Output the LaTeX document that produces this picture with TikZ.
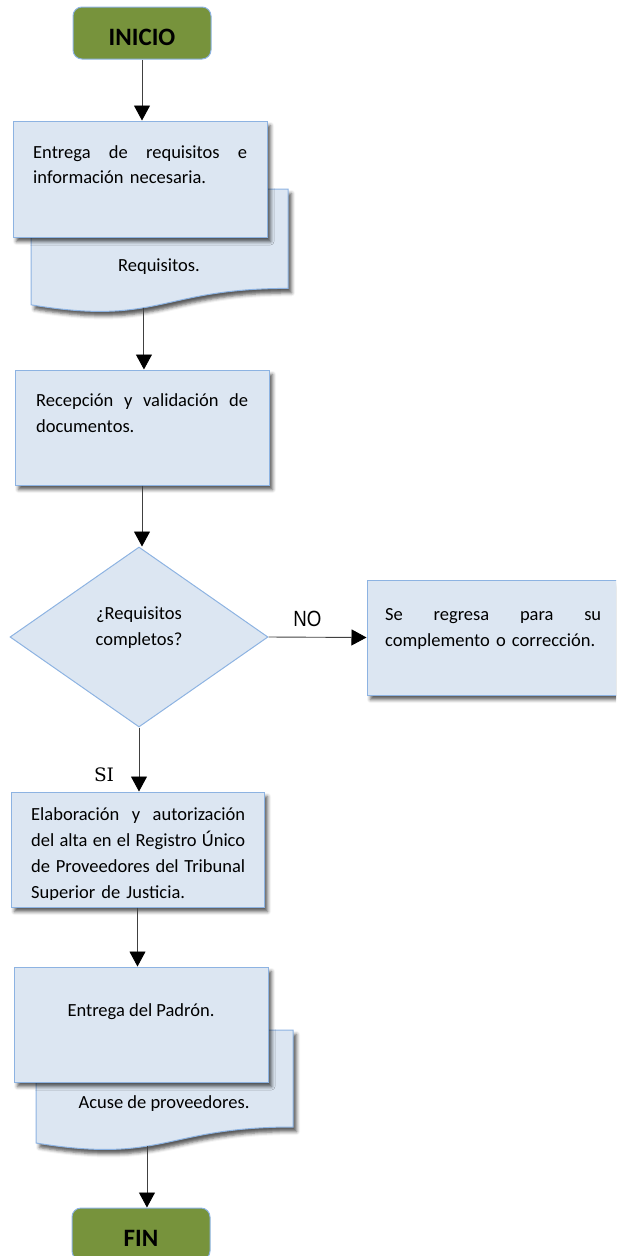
\documentclass[tikz,border=0pt]{standalone}
\usepackage{fontspec}
\setmainfont{Carlito}
\newfontfamily\narrowfont[FakeStretch=0.85]{Liberation Sans}
\newfontfamily\serfont{DejaVu Serif}
\usetikzlibrary{arrows.meta,shapes.geometric,shadows.blur}
\definecolor{boxfill}{HTML}{DCE6F2}
\definecolor{boxline}{HTML}{8DB3E2}
\definecolor{termfill}{HTML}{77933C}
\definecolor{arrline}{HTML}{404040}
\newcommand\jline[2]{\leavevmode\hbox to #1{\strut #2}}
\tikzset{
  shad/.style={blur shadow={shadow xshift=3.5pt, shadow yshift=-4.5pt, shadow blur radius=3.5pt, shadow opacity=65}},
  procbox/.style={draw=boxline, fill=boxfill, line width=1pt, inner sep=0pt, shad},
  docshape/.style={draw=boxline, fill=boxfill, line width=1pt, shad},
  decision/.style={shape=diamond, draw=boxline, fill=boxfill, line width=1pt, inner sep=0pt,
     minimum width=258pt, minimum height=180pt},
  term/.style={draw=boxline, fill=termfill, rounded corners=9pt, line width=1pt,
     minimum width=138pt, minimum height=52pt, inner sep=0pt},
  termtxt/.style={font=\fontsize{25}{30}\selectfont\bfseries, inner sep=0pt, anchor=base},
  arr/.style={-{Triangle[width=16pt,length=15pt,color=black]}, line width=0.9pt, draw=arrline},
  bodyA/.style={font=\fontsize{18.5}{25.5}\selectfont, inner sep=0pt, anchor=north west, align=left},
  bodyB/.style={font=\fontsize{18.5}{26}\selectfont, inner sep=0pt, anchor=north west, align=left},
  single/.style={font=\fontsize{18.5}{25.5}\selectfont, inner sep=0pt, anchor=base},
}
\begin{document}
\begin{tikzpicture}[x=1pt, y=-1pt]
\useasboundingbox (0,0) rectangle (616,1256);
\clip (0,0) rectangle (616,1256);

% INICIO
\node[term] (ini) at (142,33) {};
\node[termtxt] (initxt) at (142,45) {INICIO};

% document 1 + box 1
\path[docshape] (31,189) -- (288,189) -- (288,288.4)
   .. controls (159.5,288.4) and (159.5,326.3) .. (31,304.8) coordinate[pos=0.58] (d1b) -- cycle;
\node[single] (d1t) at (159,271) {Requisitos.};
\node[procbox, minimum width=254pt, minimum height=116pt] (b1) at (140,179) {};
\node[bodyA, text width=214pt] (b1t) at (33,140.4)
  {\jline{214pt}{Entrega\hfill de\hfill requisitos\hfill e}\\información necesaria.};

% box 2
\node[procbox, minimum width=254pt, minimum height=115pt] (b2) at (142,427.5) {};
\node[bodyB, text width=212pt] (b2t) at (36,388.5)
  {\jline{212pt}{Recepción\hfill y\hfill validación\hfill de}\\documentos.};

% decision
\node[decision] (dia) at (139,637) {};
\node[bodyA, anchor=north, align=center] (diat) at (139,601.5) {\strut¿Requisitos\\completos?};

% NO box
\node[procbox, minimum width=280pt, minimum height=115pt] (no) at (507,637.5) {};
\node[bodyA, text width=216pt] (not) at (385,602.5)
  {\jline{216pt}{Se\hfill regresa\hfill para\hfill su}\\complemento o corrección.};
\node[font=\narrowfont\fontsize{22}{26}\selectfont, inner sep=0pt, anchor=base] (nolab) at (307.5,626) {NO};

% box 3
\node[procbox, minimum width=253pt, minimum height=115pt] (b3) at (137.5,849.5) {};
\begin{scope}
  \clip (b3.north west) rectangle ([yshift=8.5pt]b3.south east);
  \node[bodyB, text width=214pt] (b3t) at (31,801.8)
    {\jline{214pt}{Elaboración\hfill y\hfill autorización}\\
     \jline{214pt}{del\hfill alta\hfill en\hfill el\hfill Registro\hfill Único}\\
     \jline{214pt}{de\hfill Proveedores\hfill del\hfill Tribunal}\\
     Superior de Justicia.};
\end{scope}
\node[font=\serfont\fontsize{18.5}{22}\selectfont, inner sep=0pt, anchor=base] (silab) at (104,781.5) {SI};

% document 2 + box 4
\path[docshape] (36,1030) -- (293,1030) -- (293,1127)
   .. controls (164.5,1127) and (164.5,1164) .. (36,1143) coordinate[pos=0.59] (d2b) -- cycle;
\node[single] (d2t) at (164,1108) {Acuse de proveedores.};
\node[procbox, minimum width=254pt, minimum height=115pt] (b4) at (141,1024.5) {};
\node[single] (b4t) at (141,1016.7) {Entrega del Padrón.};

% FIN
\node[term] (fin) at (141,1234) {};
\node[termtxt] (fintxt) at (141,1246) {FIN};

% connectors
\draw[arr] (ini.south) -- (ini.south |- b1.north);
\draw[arr] (d1b) -- (d1b |- b2.north);
\draw[arr] (b2.south) -- (b2.south |- dia.north);
\draw[arr] (dia.east) -- (no.west);
\draw[arr] (dia.south) -- (dia.south |- b3.north);
\draw[arr] (b3.south) -- (b3.south |- b4.north);
\draw[arr] (d2b) -- (d2b |- fin.north);
\end{tikzpicture}
\end{document}
